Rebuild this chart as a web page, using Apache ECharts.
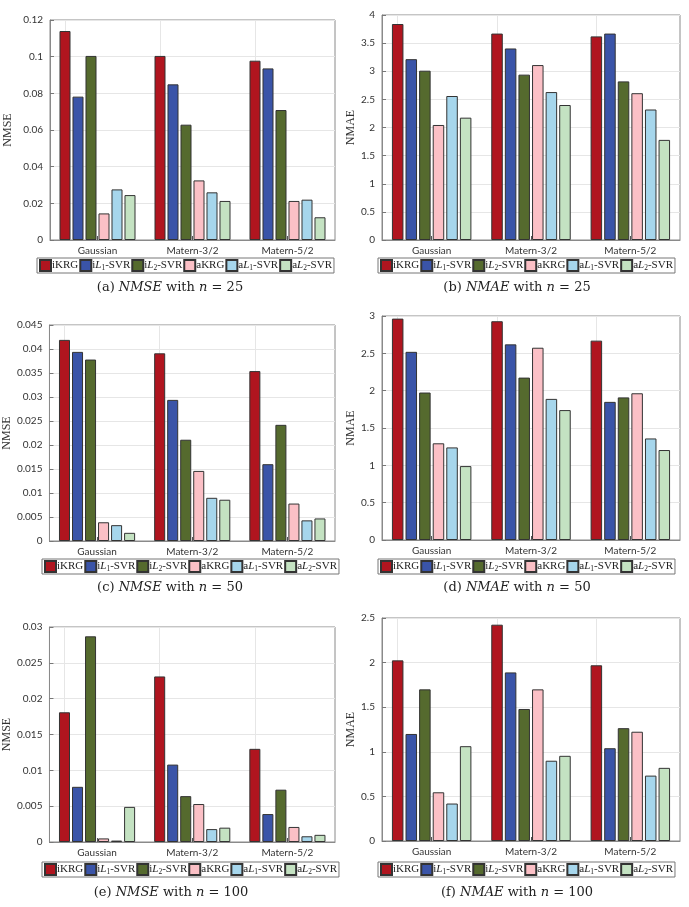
<!DOCTYPE html>
<html lang="en">
<head>
    <meta charset="UTF-8">
    <title>NMSE / NMAE</title>
    <script src="https://cdn.jsdelivr.net/npm/echarts@6/dist/echarts.min.js"></script>
    <style>
        html, body { margin: 0; padding: 0; background: #fff; }
    </style>
</head>
<body>
<div id="chart" style="width: 689px;height:907px"></div>
<script>
    var categories = ['Gaussian', 'Matern-3/2', 'Matern-5/2'];
    var methods = ['iKRG', 'iL1-SVR', 'iL2-SVR', 'aKRG', 'aL1-SVR', 'aL2-SVR'];
    var colors = ['#b0151f', '#3a54a8', '#556a2e', '#fbc0c6', '#a6d6ec', '#c4e2c2'];

    // one row per method, one value per kernel
    var nmse25 = [
        [0.114, 0.1004, 0.0978],
        [0.0782, 0.0849, 0.0936],
        [0.1004, 0.0629, 0.0709],
        [0.0145, 0.0325, 0.0213],
        [0.0276, 0.026, 0.022],
        [0.0245, 0.0213, 0.0124]
    ];
    var nmae25 = [
        [3.84, 3.67, 3.62],
        [3.215, 3.405, 3.67],
        [3.01, 2.94, 2.82],
        [2.045, 3.11, 2.61],
        [2.56, 2.63, 2.32],
        [2.175, 2.40, 1.78]
    ];
    var nmse50 = [
        [0.0419, 0.0391, 0.0354],
        [0.0394, 0.0294, 0.016],
        [0.0378, 0.0211, 0.0242],
        [0.0039, 0.0146, 0.0078],
        [0.0033, 0.009, 0.0043],
        [0.0017, 0.0086, 0.0047]
    ];
    var nmae50 = [
        [2.965, 2.93, 2.67],
        [2.52, 2.62, 1.85],
        [1.975, 2.175, 1.91],
        [1.295, 2.575, 1.965],
        [1.24, 1.89, 1.36],
        [0.99, 1.74, 1.205]
    ];
    var nmse100 = [
        [0.0181, 0.0231, 0.013],
        [0.0077, 0.0108, 0.0039],
        [0.0287, 0.0064, 0.0073],
        [0.0005, 0.0053, 0.0021],
        [0.0002, 0.0018, 0.0008],
        [0.0049, 0.002, 0.001]
    ];
    var nmae100 = [
        [2.025, 2.425, 1.97],
        [1.20, 1.89, 1.04],
        [1.70, 1.48, 1.265],
        [0.546, 1.70, 1.225],
        [0.42, 0.90, 0.733],
        [1.063, 0.955, 0.82]
    ];
    var yMax = [0.12, 4, 0.045, 3, 0.03, 2.5];
    var yStep = [0.02, 0.5, 0.005, 0.5, 0.005, 0.5];
    var yNames = ['NMSE', 'NMAE', 'NMSE', 'NMAE', 'NMSE', 'NMAE'];
    var captions = [
        '(a) {it|NMSE} with {it|n} = 25',
        '(b) {it|NMAE} with {it|n} = 25',
        '(c) {it|NMSE} with {it|n} = 50',
        '(d) {it|NMAE} with {it|n} = 50',
        '(e) {it|NMSE} with {it|n} = 100',
        '(f) {it|NMAE} with {it|n} = 100'
    ];
    var panelData = [nmse25, nmae25, nmse50, nmae50, nmse100, nmae100];

    // layout of each panel: plot box, legend, caption, y-name gap
    var panels = [
        {left: 50, top: 20, width: 285, height: 220, legLeft: 37, legTop: 258, capX: 170, capY: 288, gap: 36},
        {left: 382, top: 15, width: 298, height: 225, legLeft: 378, legTop: 258, capX: 517, capY: 288, gap: 18},
        {left: 45, top: 325, width: 290, height: 216, legLeft: 42, legTop: 559, capX: 170, capY: 588, gap: 32},
        {left: 382, top: 316, width: 298, height: 224, legLeft: 378, legTop: 559, capX: 517, capY: 588, gap: 18},
        {left: 45, top: 627, width: 290, height: 215, legLeft: 42, legTop: 862, capX: 171, capY: 893, gap: 32},
        {left: 382, top: 618, width: 298, height: 223, legLeft: 378, legTop: 862, capX: 517, capY: 893, gap: 18}
    ];

    var legendText = {
        'iKRG': 'iKRG',
        'iL1-SVR': 'i{it|L}{sub|1}-SVR',
        'iL2-SVR': 'i{it|L}{sub|2}-SVR',
        'aKRG': 'aKRG',
        'aL1-SVR': 'a{it|L}{sub|1}-SVR',
        'aL2-SVR': 'a{it|L}{sub|2}-SVR'
    };
    var serif = 'Liberation Serif';
    var sans = 'Lato';
    var gridGray = '#e6e6e6';

    var chartDom = document.getElementById('chart');
    var myChart = echarts.init(chartDom, null, {renderer: 'canvas'});
    var option;

    var grid = [], xAxis = [], yAxis = [], series = [], legend = [], title = [];

    panels.forEach(function (p, k) {
        grid.push({
            left: p.left, top: p.top, width: p.width, height: p.height,
            show: true, borderColor: '#8a8a8a', borderWidth: 1, backgroundColor: '#fff'
        });
        xAxis.push({
            gridIndex: k,
            type: 'category',
            data: categories,
            axisLine: {show: true, lineStyle: {color: '#8a8a8a'}},
            axisTick: {show: true, inside: true, alignWithLabel: true, length: 4, lineStyle: {color: '#555'}},
            axisLabel: {fontFamily: sans, fontSize: 10, color: '#333', margin: 6},
            splitLine: {show: false}
        });
        yAxis.push({
            gridIndex: k,
            type: 'value',
            min: 0,
            max: yMax[k],
            interval: yStep[k],
            name: yNames[k],
            nameLocation: 'middle',
            nameGap: p.gap,
            nameTextStyle: {fontFamily: serif, fontSize: 12, color: '#333'},
            axisLine: {show: true, lineStyle: {color: '#8a8a8a'}},
            axisTick: {show: true, inside: true, length: 4, lineStyle: {color: '#777'}},
            axisLabel: {fontFamily: sans, fontSize: 10, color: '#333', margin: 7},
            splitLine: {show: true, lineStyle: {color: gridGray}}
        });
        panelData[k].forEach(function (vals, m) {
            var s = {
                name: methods[m],
                type: 'bar',
                xAxisIndex: k,
                yAxisIndex: k,
                barGap: '18%',
                barCategoryGap: '20%',
                itemStyle: {color: colors[m], borderColor: '#333', borderWidth: 1},
                emphasis: {disabled: true},
                data: vals
            };
            if (m === 0) {
                // vertical grid lines at the kernel ticks, behind the bars
                s.markLine = {
                    silent: true,
                    z: 1,
                    symbol: 'none',
                    label: {show: false},
                    lineStyle: {color: gridGray, type: 'solid', width: 1},
                    data: categories.map(function (c) { return {xAxis: c}; })
                };
            }
            series.push(s);
        });
        legend.push({
            left: p.legLeft,
            top: p.legTop,
            data: methods,
            itemWidth: 11,
            itemHeight: 11,
            itemGap: 1,
            padding: [1, 2],
            borderColor: '#777',
            borderWidth: 1,
            icon: 'rect',
            selectedMode: false,
            formatter: function (name) { return legendText[name]; },
            textStyle: {
                fontFamily: serif, fontSize: 11, color: '#222', padding: [0, 0, 0, -4],
                rich: {
                    it: {fontFamily: serif, fontStyle: 'italic', fontSize: 11, color: '#222'},
                    sub: {fontFamily: serif, fontSize: 7.5, color: '#222', verticalAlign: 'bottom', lineHeight: 13}
                }
            }
        });
        title.push({
            text: captions[k],
            left: p.capX,
            top: p.capY,
            padding: 0,
            textAlign: 'center',
            textVerticalAlign: 'middle',
            textStyle: {
                fontFamily: 'DejaVu Serif', fontSize: 13, fontWeight: 'normal', color: '#222',
                rich: {
                    it: {fontFamily: 'DejaVu Serif', fontStyle: 'italic', fontSize: 13, color: '#222'}
                }
            }
        });
    });

    option = {
        backgroundColor: '#ffffff',
        animation: false,
        title: title,
        legend: legend,
        grid: grid,
        xAxis: xAxis,
        yAxis: yAxis,
        series: series
    };

    option && myChart.setOption(option);
</script>
</body>
</html>
